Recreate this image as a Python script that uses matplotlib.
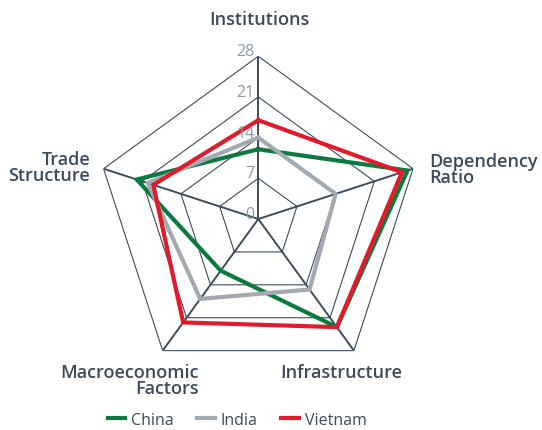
import numpy as np
import matplotlib
matplotlib.use("Agg")
import matplotlib.pyplot as plt

categories = ["Institutions", "Dependency\nRatio", "Infrastructure", "Macroeconomic\nFactors", "Trade\nStructure"]
china = [12, 27, 23, 11, 22]
india = [14, 14, 15, 17, 20]
vietnam = [17, 26, 23, 22, 19]
series_names = ["China", "India", "Vietnam"]
colors = ["#0b7a3e", "#a3a9b1", "#e11b2b"]
ticks = [0, 7, 14, 21, 28]

W, H = 542, 431
fig = plt.figure(figsize=(W / 100, H / 100), dpi=100)
cx, cy, R = 258.3, 220.0, 162.7
ax = fig.add_axes([(cx - R) / W, (H - cy - R) / H, 2 * R / W, 2 * R / H], projection="polar")
ax.set_theta_offset(np.pi / 2)
ax.set_theta_direction(-1)
ax.set_ylim(0, 28)
ax.grid(False)
ax.spines["polar"].set_visible(False)
ax.set_xticks([])
ax.set_yticks([])
ax.patch.set_alpha(0)

n = len(categories)
angles = np.arange(n) * 2 * np.pi / n
closed = np.append(angles, angles[0])
grid_color = "#3e4c5e"
for t in ticks[1:]:
    ax.plot(closed, [t] * (n + 1), color=grid_color, lw=0.8, zorder=1)
for a in angles:
    ax.plot([a, a], [0, ticks[-1]], color=grid_color, lw=1.4, zorder=1)

for name, vals, c in zip(series_names, [china, india, vietnam], colors):
    v = np.append(vals, vals[0])
    ax.plot(closed, v, color=c, lw=3, label=name, zorder=3, solid_joinstyle="miter")

for t in ticks:
    ax.annotate(str(t), xy=(0, t), xytext=(-2.5, 3.6), textcoords="offset points",
                ha="right", va="center", fontsize=11.5, color="#8e99a6",
                family="Open Sans", zorder=4)

txt_color = "#3d4a5c"
fp = dict(fontsize=13, fontweight="semibold", color=txt_color, family="Open Sans", linespacing=0.92)
fig.text(259 / W, 1 - 20 / H, categories[0], ha="center", va="center", **fp)
fig.text(429 / W, 1 - 170 / H, categories[1], ha="left", va="center", **fp)
fig.text(341 / W, 1 - 373 / H, categories[2], ha="center", va="center", **fp)
fig.text(199 / W, 1 - 381 / H, categories[3], ha="right", va="center", multialignment="right", **fp)
fig.text(90 / W, 1 - 168 / H, categories[4], ha="right", va="center", multialignment="right", **fp)

leg = fig.legend(loc="center", bbox_to_anchor=(237 / W, 1 - 421 / H), ncol=3, frameon=False,
                 handlelength=1.1, handletextpad=0.35, columnspacing=1.5,
                 prop=dict(family="Open Sans", size=11.5))
for t in leg.get_texts():
    t.set_color(txt_color)

fig.savefig("out.png", dpi=100)
